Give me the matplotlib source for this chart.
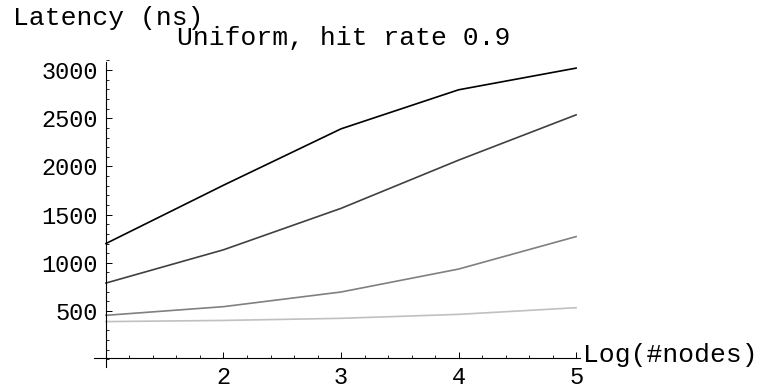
import matplotlib
matplotlib.use("Agg")
import matplotlib.pyplot as plt
from matplotlib.ticker import MultipleLocator

plt.rcParams["font.family"] = ["Liberation Mono", "DejaVu Sans Mono"]

log_nodes = [1, 2, 3, 4, 5]
latency_a = [1200, 1805, 2390, 2795, 3020]
latency_b = [790, 1135, 1565, 2065, 2535]
latency_c = [455, 545, 697, 935, 1272]
latency_d = [390, 402, 424, 465, 534]
series = [latency_a, latency_b, latency_c, latency_d]
colors = ["#000000", "#404040", "#808080", "#c0c0c0"]

fig = plt.figure(figsize=(7.71, 3.88), dpi=100)
ax = fig.add_axes([0.1222, 0.0544, 0.6326, 0.7899])

for vals, c in zip(series, colors):
    ax.plot(log_nodes, vals, color=c, linewidth=1.2)

ax.set_xlim(0.9, 5.05)
ax.set_ylim(-80, 3100)

for s in ["top", "right"]:
    ax.spines[s].set_visible(False)
ax.spines["left"].set_position(("data", 1))
ax.spines["bottom"].set_position(("data", 15))
ax.spines["left"].set_bounds(-80, 3085)
ax.spines["bottom"].set_bounds(0.9, 5.03)
ax.spines["left"].set_linewidth(0.8)
ax.spines["bottom"].set_linewidth(0.8)

ax.set_xticks([2, 3, 4, 5])
ax.set_yticks([500, 1000, 1500, 2000, 2500, 3000])
ax.xaxis.set_minor_locator(MultipleLocator(0.2))
ax.yaxis.set_minor_locator(MultipleLocator(100))
ax.tick_params(which="major", direction="in", length=4.5, width=0.7,
               labelsize=17, pad=6)
ax.tick_params(which="minor", direction="in", length=2.5, width=0.6)
ax.tick_params(axis="y", which="both", left=True)

fig.text(13 / 771, 1 - 18 / 388, "Latency (ns)", fontsize=19,
         ha="left", va="center")
fig.text(344 / 771, 1 - 38 / 388, "Uniform, hit rate 0.9", fontsize=19,
         ha="center", va="center")
fig.text(583 / 771, 1 - 355 / 388, "Log(#nodes)", fontsize=19,
         ha="left", va="center")

fig.savefig("out.png", dpi=100)
plt.close(fig)
